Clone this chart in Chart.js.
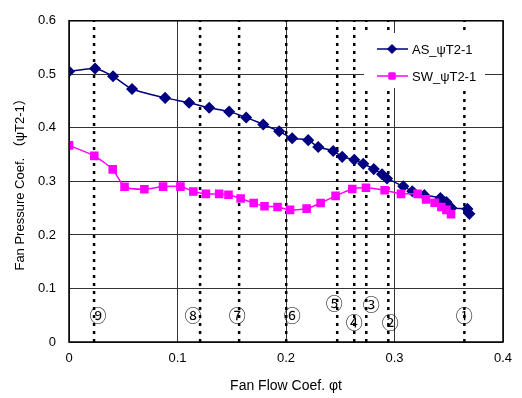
<!DOCTYPE html>
<html><head><meta charset="utf-8">
<script src="https://cdn.jsdelivr.net/npm/chart.js@4"></script>
<style>html,body{margin:0;padding:0;background:#fff}</style>
</head><body>
<canvas id="c" width="522" height="398"></canvas>
<script>
// ---- data ----
const asLabel = 'AS_ψT2-1';
const asX = [0.000,0.024,0.0406,0.0581,0.0886,0.1107,0.1292,0.1476,0.1633,0.179,0.1937,0.2057,0.2205,0.2297,0.2435,0.2518,0.2629,0.2712,0.2809,0.2885,0.2931,0.3081,0.3164,0.3275,0.3423,0.3478,0.3524,0.3672,0.369];
const asY = [0.5055,0.511,0.4963,0.4725,0.456,0.4468,0.4376,0.4303,0.4193,0.4064,0.3936,0.3807,0.3771,0.3642,0.3569,0.3459,0.3404,0.333,0.323,0.3134,0.3055,0.2908,0.2817,0.2743,0.2688,0.2615,0.2505,0.2486,0.2394];
const swLabel = 'SW_ψT2-1';
const swX = [0.000,0.0233,0.0403,0.0512,0.0695,0.0867,0.1027,0.1146,0.1262,0.1384,0.147,0.1582,0.1702,0.1802,0.1922,0.2037,0.219,0.2319,0.2457,0.2611,0.2737,0.2909,0.306,0.3213,0.3291,0.337,0.3432,0.3478,0.3521];
const swY = [0.3673,0.3477,0.3224,0.2899,0.2853,0.2903,0.2903,0.2813,0.2767,0.2767,0.2749,0.2679,0.2596,0.2536,0.2523,0.2468,0.2492,0.2596,0.273,0.2859,0.288,0.2835,0.2767,0.2767,0.2664,0.2602,0.2523,0.2468,0.2389];
// measurement positions (dotted verticals) and their circled labels
const posX = [0.0231,0.1208,0.1568,0.2002,0.2472,0.2629,0.274,0.2943,0.3644];
const posLabels = ['⑨','⑧','⑦','⑥','⑤','④','③','②','①'];
const posLabelX = [0.0268,0.1144,0.155,0.2057,0.2445,0.2629,0.2786,0.2961,0.3644];
const posLabelY = [0.05,0.05,0.05,0.05,0.072,0.036,0.07,0.036,0.05];
const xTitle = 'Fan Flow Coef. φt';
const yTitle = 'Fan Pressure Coef. （ψT2-1）';

const FONT = "'Liberation Sans', Arial, 'Noto Sans CJK JP', sans-serif";
const CJK = "'Noto Sans CJK JP', 'DejaVu Sans', sans-serif";

const dotted = posX.map(x => ({
  label: '', data: [{x: x, y: 0}, {x: x, y: 0.6}], showLine: true,
  borderColor: '#000', borderWidth: 2.5, borderDash: [3, 5], pointRadius: 0, order: 5
}));

const asData = asX.map((x, i) => ({x: x, y: asY[i]}));
const swData = swX.map((x, i) => ({x: x, y: swY[i]}));

const overlay = {
  id: 'overlay',
  afterDatasetsDraw(chart) {
    const {ctx, chartArea: a, scales: {x, y}} = chart;
    ctx.save();
    // circled labels
    ctx.fillStyle = '#000';
    ctx.font = '17px ' + CJK;
    ctx.textAlign = 'center';
    ctx.textBaseline = 'middle';
    posLabels.forEach((t, i) => ctx.fillText(t, x.getPixelForValue(posLabelX[i]), y.getPixelForValue(posLabelY[i])));
    // frame
    ctx.strokeStyle = '#000';
    ctx.lineWidth = 1.5;
    ctx.strokeRect(a.left, a.top, a.right - a.left, a.bottom - a.top);
    // legend
    const lx = 364, ly = 33, lw = 121, lh = 55;
    ctx.fillStyle = '#fff';
    ctx.fillRect(lx, ly, lw, lh);
    const items = [chart.data.datasets[posX.length], chart.data.datasets[posX.length + 1]];
    items.forEach((ds, i) => {
      const cy = 49 + i * 27;
      ctx.strokeStyle = ds.borderColor;
      ctx.lineWidth = ds.borderWidth;
      ctx.beginPath(); ctx.moveTo(377, cy); ctx.lineTo(408, cy); ctx.stroke();
      ctx.fillStyle = ds.pointBackgroundColor;
      ctx.strokeStyle = ds.pointBorderColor;
      ctx.lineWidth = 1;
      Chart.helpers.drawPoint(ctx, {pointStyle: ds.pointStyle, radius: 4.5, borderWidth: 1}, 392, cy);
      ctx.fillStyle = '#000';
      ctx.font = '13px ' + FONT;
      ctx.textAlign = 'left';
      ctx.fillText(ds.label, 412, cy + 1);
    });
    ctx.restore();
  }
};

new Chart(document.getElementById('c'), {
  type: 'scatter',
  data: {
    datasets: dotted.concat([
      {label: asLabel, data: asData, showLine: true, borderColor: '#000080', borderWidth: 1.5,
       pointStyle: 'rectRot', pointRadius: 5, pointBackgroundColor: '#000080', pointBorderColor: '#000080',
       tension: 0.2, order: 2},
      {label: swLabel, data: swData, showLine: true, borderColor: '#ff00ff', borderWidth: 1.5,
       pointStyle: 'rect', pointRadius: 5, pointBackgroundColor: '#ff00ff', pointBorderColor: '#ff00ff',
       tension: 0.2, order: 1}
    ])
  },
  options: {
    responsive: false, animation: false,
    layout: {padding: {top: 15, right: 19, left: 0, bottom: 0}},
    plugins: {legend: {display: false}, tooltip: {enabled: false}},
    scales: {
      x: {
        type: 'linear', min: 0, max: 0.4,
        ticks: {stepSize: 0.1, color: '#000', font: {size: 13, family: FONT}, padding: 9},
        grid: {color: '#333', lineWidth: 1, drawTicks: false},
        border: {display: false},
        title: {display: true, text: xTitle, color: '#000', font: {size: 14, family: FONT}, padding: {top: 0, bottom: 3}},
        afterFit: s => { s.height = 56; }
      },
      y: {
        type: 'linear', min: 0, max: 0.6,
        ticks: {stepSize: 0.1, color: '#000', font: {size: 13, family: FONT}, padding: 13},
        grid: {color: '#333', lineWidth: 1, drawTicks: false},
        border: {display: false},
        title: {display: true, text: yTitle, color: '#000', font: {size: 13, family: FONT}, padding: {top: 13, bottom: 0}},
        afterFit: s => { s.width = 69; }
      }
    }
  },
  plugins: [overlay]
});
</script>
</body></html>
